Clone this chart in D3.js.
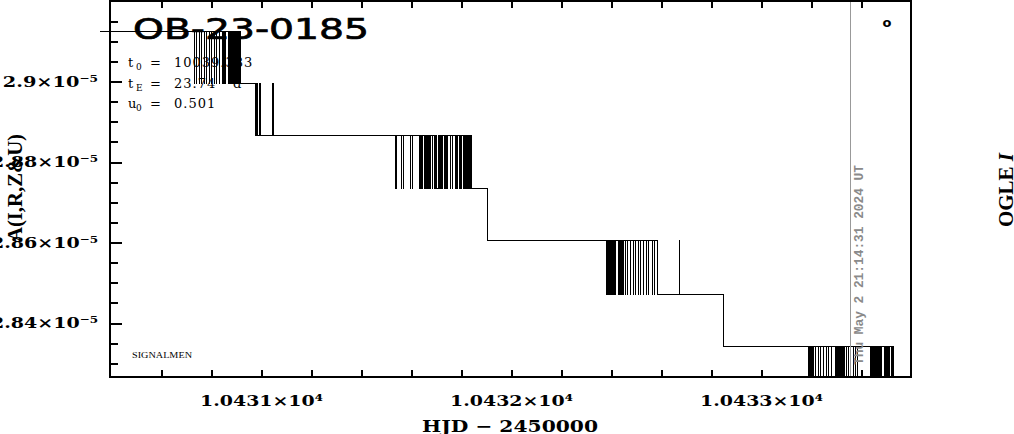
<!DOCTYPE html>
<html><head><meta charset="utf-8">
<script src="https://cdn.jsdelivr.net/npm/d3@7"></script>
<style>body{margin:0;background:#fff} svg{display:block}</style>
</head><body>
<svg id="c" width="1014" height="434"></svg>
<script>
// ---------------- data ----------------
const xDomain = [10430.396, 10433.6];
const yDomain = [2.8266e-5, 2.92e-5];
const xMajorTicks = [10431, 10432, 10433];
const xTickLabels = ["1.0431×10⁴", "1.0432×10⁴", "1.0433×10⁴"];
const xMinorTicks = [10430.6, 10430.8, 10431.0, 10431.2, 10431.4, 10431.6, 10431.8, 10432.0, 10432.2, 10432.4, 10432.6, 10432.8, 10433.0, 10433.2, 10433.4];
const yMajorTicks = [2.84e-5, 2.86e-5, 2.88e-5, 2.9e-5];
const yTickLabels = ["2.84×10⁻⁵", "2.86×10⁻⁵", "2.88×10⁻⁵", "2.9×10⁻⁵"];
const yMinorTicks = [2.83e-5, 2.835e-5, 2.845e-5, 2.85e-5, 2.855e-5, 2.865e-5, 2.87e-5, 2.875e-5, 2.885e-5, 2.89e-5, 2.895e-5, 2.905e-5, 2.91e-5, 2.915e-5];

// model magnification levels (steps)
const stepLevels = [2.9123e-5, 2.8994e-5, 2.8867e-5, 2.8735e-5, 2.8604e-5, 2.8472e-5, 2.8343e-5, 2.8211e-5];
const startTime = 10430.356;
// times (HJD-2450000) at which the model flips between stepLevels[k] and stepLevels[k+1]
const band0 = [10430.732, 10430.7336, 10430.742, 10430.7436, 10430.752, 10430.7536, 10430.762, 10430.7636, 10430.772, 10430.7736, 10430.782, 10430.7836,
  10430.792, 10430.7936, 10430.802, 10430.8036, 10430.812, 10430.8136, 10430.822, 10430.8236, 10430.832, 10430.8336,
  10430.844, 10430.848, 10430.852, 10430.856, 10430.868, 10430.872, 10430.876, 10430.880, 10430.884, 10430.888, 10430.892, 10430.896, 10430.900, 10430.904, 10430.908, 10430.912, 10430.916];
const band1 = [10430.978, 10430.982, 10430.986, 10430.994, 10430.996, 10431.047, 10431.049];
const band2 = [10431.536, 10431.5376, 10431.542, 10431.5436, 10431.562, 10431.5636, 10431.5692, 10431.5708, 10431.596, 10431.5976, 10431.6052, 10431.6068,
  10431.632, 10431.636, 10431.640, 10431.644, 10431.652, 10431.656, 10431.660, 10431.664, 10431.668, 10431.672,
  10431.678, 10431.6796, 10431.684, 10431.6856,
  10431.692, 10431.696, 10431.700, 10431.708, 10431.712, 10431.716, 10431.720, 10431.724, 10431.732, 10431.736, 10431.740, 10431.744,
  10431.756, 10431.7576, 10431.764, 10431.7656, 10431.776, 10431.7776, 10431.782, 10431.784, 10431.794, 10431.796, 10431.800, 10431.8016,
  10431.808, 10431.812, 10431.816, 10431.820, 10431.824, 10431.828, 10431.832, 10431.836, 10431.840];
const band3 = [10431.907];
const band4 = [10432.382, 10432.384,
  10432.388, 10432.392, 10432.396, 10432.400, 10432.404, 10432.408, 10432.412, 10432.416, 10432.428, 10432.432, 10432.436, 10432.440, 10432.444, 10432.448,
  10432.456, 10432.4576, 10432.466, 10432.4676, 10432.476, 10432.4776, 10432.488, 10432.4896, 10432.498, 10432.4996, 10432.508, 10432.5096,
  10432.518, 10432.5196, 10432.528, 10432.5296, 10432.540, 10432.5416, 10432.550, 10432.5516, 10432.564, 10432.5656, 10432.574, 10432.5756,
  10432.586,
  10432.672, 10432.6736];
const band5 = [10432.850];
const band6 = [10433.188, 10433.192, 10433.196, 10433.200, 10433.204, 10433.208,
  10433.218, 10433.2196, 10433.228, 10433.2296, 10433.238, 10433.2396, 10433.248, 10433.2496, 10433.260, 10433.2616, 10433.270, 10433.2716, 10433.280, 10433.2816,
  10433.296, 10433.300, 10433.304, 10433.308, 10433.312, 10433.316, 10433.320, 10433.324, 10433.328, 10433.332,
  10433.340, 10433.3416, 10433.350, 10433.3516, 10433.368, 10433.3696, 10433.376, 10433.3776, 10433.386, 10433.3876,
  10433.436, 10433.440, 10433.444, 10433.448, 10433.452, 10433.456, 10433.460, 10433.464, 10433.468, 10433.472, 10433.476, 10433.480,
  10433.492, 10433.496, 10433.502, 10433.504, 10433.510, 10433.514, 10433.522, 10433.524,
  10433.530];
const bands = [band0, band1, band2, band3, band4, band5, band6];

const nowMarker = 10433.358;
const plotDate = "Thu May  2 21:14:31 2024 UT";
const eventName = "OB-23-0185";
const paramNames = ["t", "t", "u"];
const paramSubs = ["0", "E", "0"];
const paramValues = ["10039.383", "23.74", "0.501"];
const paramUnits = ["", "d", ""];
const yTitle = "A(I,R,Z&U)";
const xTitle = "HJD − 2450000";
const surveyName = "OGLE ";
const bandName = "I";
const footNote = "SIGNALMEN";
const cornerMark = "o";

// ---------------- drawing ----------------
const svg = d3.select("#c");
const L = 110, R = 911, T = 1, B = 377;
const x = d3.scaleLinear().domain(xDomain).range([L, R]);
const y = d3.scaleLinear().domain(yDomain).range([B, T]);
const serif = "'DejaVu Serif', serif";

// build model points
const pts = [{t: startTime, v: stepLevels[0]}];
bands.forEach((tog, k) => {
  let upper = true;
  tog.forEach(t => {
    upper = !upper;
    pts.push({t, v: upper ? stepLevels[k] : stepLevels[k + 1]});
  });
});

// text under data
svg.append("text").attr("x", 133).attr("y", 39)
  .attr("font-family", "'DejaVu Sans', sans-serif").attr("font-size", 29)
  .attr("stroke", "#000").attr("stroke-width", 0.7)
  .attr("textLength", 236).attr("lengthAdjust", "spacingAndGlyphs")
  .text(eventName);

const pY = [67, 88, 108];
paramNames.forEach((n, i) => {
  const t = svg.append("text").attr("y", pY[i]).attr("font-family", serif).attr("font-size", 13);
  t.append("tspan").attr("x", 128).text(n);
  t.append("tspan").attr("x", 136).attr("dy", 3).attr("font-size", 9).text(paramSubs[i]);
  t.append("tspan").attr("x", 150).attr("dy", -3).text("=");
  t.append("tspan").attr("x", 174).attr("letter-spacing", 1).text(paramValues[i]);
  if (paramUnits[i]) t.append("tspan").attr("x", 233).text(paramUnits[i]);
});

svg.append("text").attr("x", 132).attr("y", 358)
  .attr("font-family", "'Liberation Serif', serif").attr("font-size", 9)
  .attr("textLength", 60).attr("lengthAdjust", "spacingAndGlyphs").text(footNote);

// clip
svg.append("defs").append("clipPath").attr("id", "clp")
  .append("rect").attr("x", 0).attr("y", 0).attr("width", 1014).attr("height", B);

const line = d3.line().x(d => x(d.t)).y(d => y(d.v)).curve(d3.curveStepAfter);
svg.append("path").datum(pts).attr("d", line)
  .attr("clip-path", "url(#clp)")
  .attr("fill", "none").attr("stroke", "#000").attr("stroke-width", 1)
  .attr("shape-rendering", "crispEdges");

// date marker
svg.append("line").attr("x1", x(nowMarker)).attr("x2", x(nowMarker)).attr("y1", 0).attr("y2", B)
  .attr("stroke", "#999").attr("stroke-width", 1).attr("shape-rendering", "crispEdges");
svg.append("text").attr("transform", `translate(863,365) rotate(-90)`)
  .attr("font-family", "'Liberation Mono', monospace").attr("font-weight", "bold").attr("font-size", 12)
  .attr("fill", "#8a8a8a").attr("textLength", 200).attr("lengthAdjust", "spacingAndGlyphs")
  .text(plotDate);

// axes
function styleAxis(g) {
  g.select(".domain").remove();
  g.selectAll(".tick line").attr("stroke", "#000").attr("stroke-width", 2).attr("shape-rendering", "crispEdges");
}
svg.append("g").attr("transform", `translate(0,${B})`)
  .call(d3.axisBottom(x).tickValues(xMinorTicks).tickSize(-7).tickFormat(""))
  .call(styleAxis);
svg.append("g").attr("transform", `translate(0,${T})`)
  .call(d3.axisTop(x).tickValues(xMinorTicks).tickSize(-7).tickFormat(""))
  .call(styleAxis);
const xl = svg.append("g").attr("transform", `translate(0,${B})`)
  .call(d3.axisBottom(x).tickValues(xMajorTicks).tickSize(0).tickFormat((d, i) => xTickLabels[i]))
  .call(styleAxis);
xl.selectAll("text").attr("y", 29).attr("dy", 0)
  .attr("font-family", serif).attr("font-weight", "bold").attr("font-size", 15).attr("fill", "#000")
  .attr("textLength", 123).attr("lengthAdjust", "spacingAndGlyphs");

svg.append("g").attr("transform", `translate(${L},0)`)
  .call(d3.axisLeft(y).tickValues(yMinorTicks).tickSize(-8).tickFormat(""))
  .call(styleAxis);
const yl = svg.append("g").attr("transform", `translate(${L},0)`)
  .call(d3.axisLeft(y).tickValues(yMajorTicks).tickSize(-12).tickPadding(12).tickFormat((d, i) => yTickLabels[i]))
  .call(styleAxis);
yl.selectAll("text").attr("font-family", serif).attr("font-weight", "bold").attr("font-size", 15).attr("fill", "#000")
  .attr("textLength", (d, i) => yTickLabels[i].length * 11.9).attr("lengthAdjust", "spacingAndGlyphs");

// frame
svg.append("rect").attr("x", L).attr("y", T).attr("width", R - L).attr("height", B - T)
  .attr("fill", "none").attr("stroke", "#000").attr("stroke-width", 2).attr("shape-rendering", "crispEdges");

// titles
svg.append("text").attr("x", 510).attr("y", 432).attr("text-anchor", "middle")
  .attr("font-family", serif).attr("font-weight", "bold").attr("font-size", 17)
  .attr("textLength", 176).attr("lengthAdjust", "spacingAndGlyphs").text(xTitle);
svg.append("text").attr("transform", "translate(22,188) rotate(-90)").attr("text-anchor", "middle")
  .attr("font-family", "'Liberation Serif', serif").attr("font-weight", "bold").attr("font-size", 21)
  .attr("textLength", 108).attr("lengthAdjust", "spacingAndGlyphs").text(yTitle);
const og = svg.append("text").attr("transform", "translate(1013,190) rotate(-90)").attr("text-anchor", "middle")
  .attr("font-family", "'Liberation Serif', serif").attr("font-weight", "bold").attr("font-size", 21);
og.append("tspan").text(surveyName);
og.append("tspan").attr("font-style", "italic").text(bandName);

svg.append("text").attr("x", 887).attr("y", 27).attr("text-anchor", "middle")
  .attr("font-family", "'DejaVu Sans', sans-serif").attr("font-weight", "bold").attr("font-size", 13)
  .text(cornerMark);
</script>
</body></html>
